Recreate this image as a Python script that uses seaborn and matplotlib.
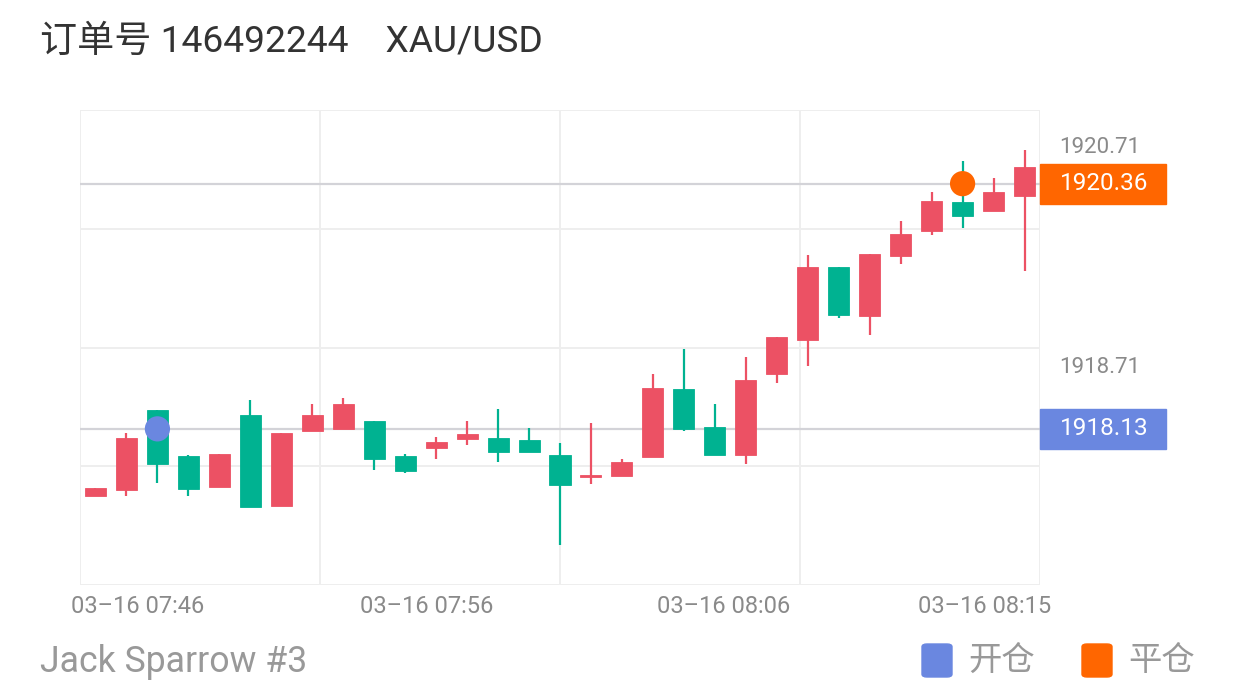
import matplotlib
matplotlib.use("Agg")
import matplotlib.pyplot as plt
import matplotlib.transforms as mtransforms
from matplotlib.patches import FancyBboxPatch, Rectangle
import numpy as np
import pandas as pd
import seaborn as sns

# one-minute XAU/USD candles, 03-16 07:45 .. 08:15
times = ["07:45", "07:46", "07:47", "07:48", "07:49", "07:50", "07:51", "07:52",
         "07:53", "07:54", "07:55", "07:56", "07:57", "07:58", "07:59", "08:00",
         "08:01", "08:02", "08:03", "08:04", "08:05", "08:06", "08:07", "08:08",
         "08:09", "08:10", "08:11", "08:12", "08:13", "08:14", "08:15"]
opens = [1917.52, 1917.57, 1918.30, 1917.88, 1917.60, 1918.26, 1917.43, 1918.11,
         1918.13, 1918.20, 1917.88, 1917.96, 1918.04, 1918.05, 1918.03, 1917.89,
         1917.69, 1917.70, 1917.87, 1918.49, 1918.15, 1917.89, 1918.63, 1918.94,
         1919.60, 1919.16, 1919.70, 1919.93, 1920.19, 1920.11, 1920.25]
closes = [1917.59, 1918.05, 1917.81, 1917.58, 1917.90, 1917.42, 1918.09, 1918.26,
          1918.36, 1917.86, 1917.75, 1918.01, 1918.08, 1917.92, 1917.92, 1917.62,
          1917.71, 1917.83, 1918.50, 1918.13, 1917.89, 1918.57, 1918.97, 1919.60,
          1919.17, 1919.72, 1919.90, 1920.20, 1920.07, 1920.28, 1920.51]
highs = [1917.59, 1918.09, 1918.30, 1917.89, 1917.90, 1918.39, 1918.09, 1918.36,
         1918.41, 1918.20, 1917.90, 1918.06, 1918.20, 1918.31, 1918.14, 1918.00,
         1918.18, 1917.86, 1918.63, 1918.86, 1918.36, 1918.78, 1918.97, 1919.71,
         1919.60, 1919.72, 1920.02, 1920.28, 1920.57, 1920.41, 1920.67]
lows = [1917.52, 1917.52, 1917.64, 1917.52, 1917.60, 1917.42, 1917.43, 1918.11,
        1918.13, 1917.76, 1917.73, 1917.86, 1917.98, 1917.83, 1917.92, 1917.07,
        1917.63, 1917.70, 1917.87, 1918.11, 1917.89, 1917.81, 1918.55, 1918.70,
        1919.14, 1918.98, 1919.63, 1919.89, 1919.96, 1920.11, 1919.57]

open_time, open_price = "07:47", 1918.13
close_time, close_price = "08:13", 1920.36
axis_values = [1920.71, 1918.71]
tick_times = ["07:46", "07:56", "08:06", "08:15"]

RED, GREEN = "#EC5164", "#00B291"
BLUE, ORANGE = "#6A87E0", "#FF6600"

df = pd.DataFrame({"time": times, "open": opens, "close": closes,
                   "high": highs, "low": lows})
df["x"] = np.arange(len(df))
df["up"] = df["close"] >= df["open"]
df["color"] = np.where(df["up"], RED, GREEN)
df["bottom"] = df[["open", "close"]].min(axis=1)
df["height"] = (df["close"] - df["open"]).abs().clip(lower=0.015)
xpos = dict(zip(df["time"], df["x"]))

sns.set_theme(style="white")
plt.rcParams["font.family"] = ["Roboto", "Noto Sans CJK SC", "DejaVu Sans"]

fig = plt.figure(figsize=(12.4, 7), dpi=100)
ax = fig.add_axes([80 / 1240, 115 / 700, 960 / 1240, 475 / 700])

ymin, ymax = 1916.71, 1921.03
xmin, xmax = -0.5, len(df) - 0.5
ax.set_xlim(xmin, xmax)
ax.set_ylim(ymin, ymax)

# grid on minor ticks, labels on major ticks
ax.set_xticks(np.linspace(xmin, xmax, 5), minor=True)
ax.set_yticks(np.linspace(ymin, ymax, 5), minor=True)
ax.grid(False, which="major")
ax.grid(True, which="minor", color="#eeeeee", lw=1.4)
for s in ax.spines.values():
    s.set_visible(False)

# reference lines for entry / exit
for price in (open_price, close_price):
    ax.axhline(price, color="#d3d3d8", lw=1.6, zorder=1.5)

# candles
ax.vlines(df["x"], df["low"], df["high"], colors=df["color"], lw=1.6, zorder=2)
ax.bar(df["x"], df["height"], bottom=df["bottom"], width=0.68,
       color=df["color"], edgecolor=df["color"], lw=0.6, zorder=3)

# entry / exit markers
sns.scatterplot(x=[xpos[open_time]], y=[open_price], s=330, color=BLUE,
                edgecolor="none", zorder=5, ax=ax, legend=False)
sns.scatterplot(x=[xpos[close_time]], y=[close_price], s=330, color=ORANGE,
                edgecolor="none", zorder=5, ax=ax, legend=False)
ax.set_xlabel("")
ax.set_ylabel("")

# y labels on the right
ax.yaxis.tick_right()
ax.set_yticks(axis_values)
ax.set_yticklabels([f"{v:.2f}" for v in axis_values])
ax.tick_params(axis="y", which="both", length=0, pad=14, labelsize=16,
               labelcolor="#8a8a8a")

# x labels (placed under the time axis as in the original)
tick_pos = [1.35, 10.68, 20.29, 28.71]
ax.set_xticks(tick_pos)
ax.set_xticklabels([f"03–16 {t}" for t in tick_times])
ax.tick_params(axis="x", which="both", length=0, pad=7, labelsize=17,
               labelcolor="#8a8a8a")

# price boxes on the right edge
trans = mtransforms.blended_transform_factory(ax.transAxes, ax.transData)
box_h = 40 / (475 / (ymax - ymin))
for price, col in ((close_price, ORANGE), (open_price, BLUE)):
    ax.add_patch(Rectangle((1.0, price - box_h / 2), 126 / 960, box_h,
                           transform=trans, color=col, clip_on=False, zorder=6))
    ax.text(1.0 + 20 / 960, price, f"{price:.2f}", transform=trans,
            ha="left", va="center", color="white", fontsize=17.5, zorder=7)

# title and footer
fig.text(40 / 1240, 1 - 42 / 700, "订单号 146492244    XAU/USD",
         ha="left", va="center", fontsize=26.7, color="#333333")
fig.text(40 / 1240, 1 - 662 / 700, "Jack Sparrow #3",
         ha="left", va="center", fontsize=25.7, color="#999999")

# legend
for lx, col, label in ((922, BLUE, "开仓"), (1082, ORANGE, "平仓")):
    fig.patches.append(FancyBboxPatch(
        (lx / 1240, 1 - 677 / 700), 30 / 1240, 33 / 700,
        boxstyle="round,pad=0,rounding_size=0.004",
        transform=fig.transFigure, color=col))
    fig.text((lx + 46) / 1240, 1 - 661 / 700, label, ha="left", va="center",
             fontsize=24, color="#999999")

fig.savefig("out.png", dpi=100)
plt.close(fig)
